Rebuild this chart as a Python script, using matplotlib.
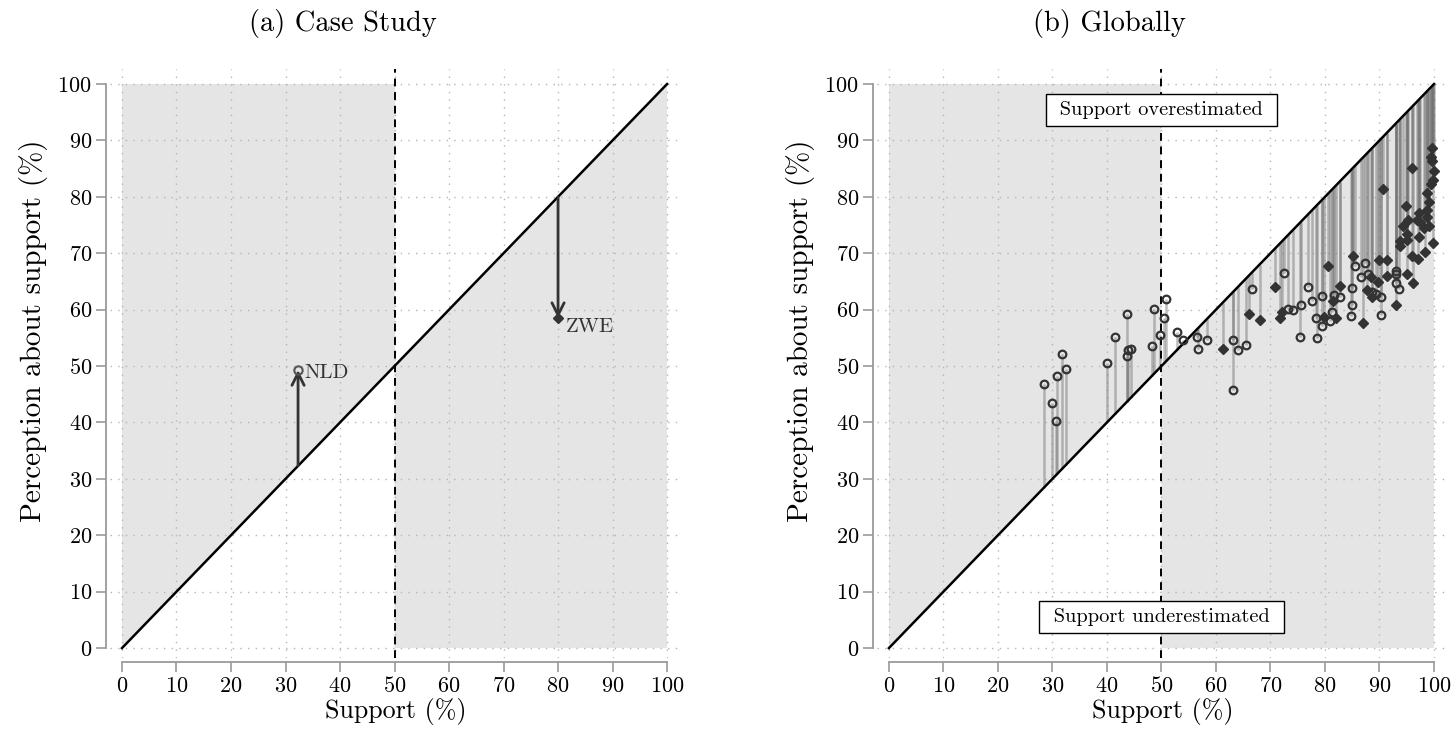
import matplotlib
matplotlib.use("Agg")
import matplotlib.pyplot as plt
import numpy as np

plt.rcParams['font.family'] = ['cmr10', 'DejaVu Serif']
plt.rcParams['mathtext.fontset'] = 'cm'
plt.rcParams['axes.unicode_minus'] = False
plt.rcParams['axes.formatter.use_mathtext'] = True

# ---------------- data ----------------
ticks = [0, 10, 20, 30, 40, 50, 60, 70, 80, 90, 100]
threshold = 50

# case study (panel a)
case_names = ["NLD", "ZWE"]
case_support = [32.3, 80.0]
case_perception = [49.3, 58.5]
case_markers = ["o", "D"]

# globally (panel b): circles
circ_support = [28.4, 30.0, 30.6, 30.8, 31.7, 32.4, 40.1, 41.5, 43.7, 43.7, 43.8, 44.4,
                48.3, 48.7, 49.8, 50.5, 50.9, 52.9, 54.0, 56.6, 56.7, 58.4, 63.2, 63.1,
                64.0, 65.6, 66.7, 72.5, 73.3, 74.2, 75.6, 75.4, 76.9, 77.6, 78.3, 78.6,
                79.4, 79.4, 80.9, 81.3, 81.7, 82.7, 84.7, 84.9, 85.0, 85.6, 86.6, 87.4,
                87.9, 88.7, 89.3, 90.2, 90.3, 93.0, 93.1, 93.0, 93.6]
circ_perception = [46.9, 43.4, 40.2, 48.3, 52.2, 49.5, 50.5, 55.1, 59.2, 51.7, 52.8, 53.1,
                   53.6, 60.1, 55.5, 58.5, 61.8, 56.1, 54.6, 55.1, 53.0, 54.7, 54.7, 45.7,
                   52.9, 53.8, 63.7, 66.5, 60.2, 59.9, 60.9, 55.1, 64.1, 61.6, 58.5, 55.0,
                   57.1, 62.5, 57.9, 59.6, 62.6, 62.3, 58.8, 63.8, 60.8, 67.8, 65.7, 68.2,
                   66.4, 63.1, 62.8, 62.2, 59.1, 66.9, 66.3, 64.7, 63.7]

# globally (panel b): diamonds
diam_support = [61.2, 66.0, 68.0, 70.9, 72.1, 71.7, 79.9, 80.6, 81.4, 82.1, 82.7, 85.1,
                86.9, 87.7, 88.4, 88.7, 89.8, 89.9, 91.4, 91.4, 93.0, 95.0, 96.1, 95.9,
                97.1, 98.4, 93.8, 93.7, 95.1, 99.8, 99.6, 99.5, 99.6, 100.0, 96.0, 99.9,
                99.4, 90.7, 98.7, 94.8, 99.0, 98.8, 97.2, 95.2, 94.3, 96.8, 97.4, 98.7,
                99.0, 98.1, 95.0, 97.3]
diam_perception = [53.0, 59.2, 58.1, 64.0, 59.6, 58.6, 58.7, 67.8, 61.6, 58.6, 64.2, 69.5,
                   57.6, 63.5, 65.8, 62.2, 64.9, 68.8, 68.8, 66.0, 60.8, 66.3, 64.8, 69.5,
                   68.9, 70.3, 71.3, 72.2, 72.3, 71.9, 88.7, 87.0, 86.4, 84.6, 85.1, 83.0,
                   82.2, 81.4, 80.6, 78.4, 79.0, 77.7, 77.2, 75.9, 74.9, 75.9, 75.5, 76.5,
                   74.9, 74.5, 73.4, 72.9]

titles = ["(a) Case Study", "(b) Globally"]
xlabel = "Support (%)"
ylabel = "Perception about support (%)"
over_label = "Support overestimated"
under_label = "Support underestimated"

# ---------------- style ----------------
shade = "#e5e5e5"
spine_c = "#9a9a9a"
dark = "#333333"

fig = plt.figure(figsize=(14.55, 7.39), dpi=100)
ax_a = fig.add_axes([0.0756, 0.1093, 0.3926, 0.7976])
ax_b = fig.add_axes([0.6027, 0.1093, 0.3926, 0.7976])


def base(ax, title):
    ax.set_xlim(-2.2, 102.6)
    ax.set_ylim(-1.8, 102.7)
    lo, hi = ticks[0], ticks[-1]
    ax.fill([lo, lo, threshold, threshold], [lo, hi, hi, threshold],
            color=shade, lw=0, zorder=0.2)
    ax.fill([threshold, threshold, hi, hi], [lo, threshold, hi, lo],
            color=shade, lw=0, zorder=0.2)
    ax.set_axisbelow(True)
    ax.grid(True, color="#b5b5b5", lw=1.0, ls=(0, (1, 4.5)))
    ax.plot([lo, hi], [lo, hi], color="black", lw=1.8, zorder=3)
    ax.axvline(threshold, color="black", lw=1.4, ls=(0, (4, 3)), zorder=3)
    ax.set_xticks(ticks)
    ax.set_yticks(ticks)
    for s in ["top", "right"]:
        ax.spines[s].set_visible(False)
    for s in ["left", "bottom"]:
        ax.spines[s].set_position(("outward", 3))
        ax.spines[s].set_bounds(lo, hi)
        ax.spines[s].set_color(spine_c)
        ax.spines[s].set_linewidth(1.3)
    ax.tick_params(direction="out", length=7, width=1.2, color=spine_c,
                   labelsize=16, pad=3)
    ax.set_xlabel(xlabel, fontsize=18.7, labelpad=1)
    ax.set_ylabel(ylabel, fontsize=21)
    ax.yaxis.set_label_coords(-0.108, 0.555)
    ax.set_title(title, fontsize=20.5, pad=27, x=0.407)


base(ax_a, titles[0])
base(ax_b, titles[1])

# panel a: arrows and markers
for name, sx, py, mk in zip(case_names, case_support, case_perception, case_markers):
    ax_a.annotate("", xy=(sx, py), xytext=(sx, sx),
                  arrowprops=dict(arrowstyle="->", color=dark, lw=2,
                                  mutation_scale=22, shrinkA=0, shrinkB=0),
                  zorder=4)
    if mk == "o":
        ax_a.plot(sx, py, marker="o", ms=6, mfc="none", mec="#555555", mew=1.5, zorder=5)
        ax_a.text(sx + 1.2, py - 0.6, name, fontsize=15, va="center", ha="left", color=dark)
    else:
        ax_a.plot(sx, py, marker="D", ms=5, color=dark, zorder=5)
        ax_a.text(sx + 1.4, py - 1.6, name, fontsize=15, va="center", ha="left", color=dark)

# panel b: lines from diagonal to points
all_x = circ_support + diam_support
all_y = circ_perception + diam_perception
ax_b.vlines(all_x, all_x, all_y, color="#6e6e6e", alpha=0.45, lw=1.8, zorder=2)
ax_b.plot(circ_support, circ_perception, ls="none", marker="o", ms=5.5,
          mfc="none", mec=dark, mew=1.6, zorder=4)
ax_b.plot(diam_support, diam_perception, ls="none", marker="D", ms=5.5,
          color=dark, mec=dark, zorder=4)

box = dict(boxstyle="square,pad=0.36", fc="white", ec="black", lw=1)
ax_b.text(threshold, 95.4, " " + over_label + " ", fontsize=14.7, ha="center",
          va="center", bbox=box, zorder=6)
ax_b.text(threshold, 5.5, " " + under_label + " ", fontsize=14.7, ha="center",
          va="center", bbox=box, zorder=6)

fig.savefig("out.png", dpi=100)
